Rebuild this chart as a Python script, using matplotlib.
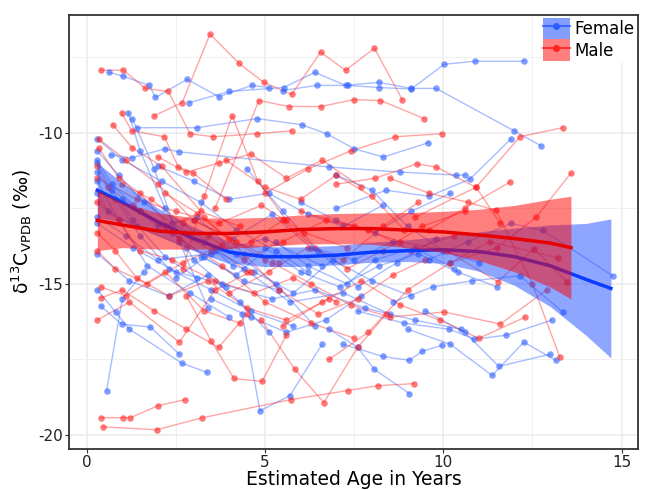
import matplotlib
matplotlib.use("Agg")
import matplotlib.pyplot as plt
from matplotlib.patches import Patch
from matplotlib.lines import Line2D
from matplotlib.ticker import MultipleLocator

plt.rcParams['axes.unicode_minus'] = False

# individual trajectories (age in years, d13C)
female_ages = [
    [0.64, 1.03, 1.76, 1.93, 2.82, 3.7, 4.64, 5.1],
    [2.88, 3.99, 5.53, 6.4, 7.26, 8.2, 9.1, 9.8, 11.98, 12.74],
    [5.5, 6.45, 7.32, 8.2, 9.1, 10.03, 10.9, 12.26],
    [1.42, 3.1, 4.78, 6.03, 6.73, 7.51, 8.32, 9.58],
    [1.17, 1.5, 2.2, 3.0, 3.9],
    [1.28, 1.9, 2.6, 3.4],
    [0.67, 1.26, 2.2, 2.6, 6.79, 8.8, 10.36, 10.61],
    [7.0, 8.4, 9.6, 10.75, 11.9],
    [0.3, 0.9, 1.6, 2.4, 3.3, 4.1],
    [0.3, 0.7, 1.3, 2.2, 3.1],
    [0.3, 0.8, 1.5, 2.3, 3.5, 4.6, 5.8],
    [0.39, 0.98, 1.79, 2.6],
    [0.3, 0.81, 1.2, 2.68, 3.38],
    [0.56, 1.0, 1.6],
    [4.36, 4.86, 5.7, 6.6],
    [9.0, 10.2, 11.37, 12.26, 13.16],
    [9.5, 10.6, 11.56, 12.99],
    [0.3, 1.3, 2.5, 3.8, 5.2, 6.4, 7.8, 9.2, 10.5],
    [9.6, 10.7, 11.9, 12.79, 14.75],
    [8.6, 9.7, 10.8, 12.15, 13.35],
    [7.6, 8.9, 10.17, 10.87, 11.76, 13.04],
    [6.8, 7.6, 8.07, 9.05],
    [7.2, 8.3, 9.05, 9.41, 9.97],
    [0.3, 1.0, 2.1, 3.2, 4.2, 5.3, 6.2],
    [0.3, 0.6, 1.4, 2.8, 4.4, 5.7, 7.2, 8.5],
    [2.5, 3.6, 4.7, 5.8, 6.9, 8.0, 9.1],
    [3.0, 4.1, 5.2, 6.3, 7.5, 8.6],
    [4.5, 5.5, 6.5, 7.6, 8.7, 9.8],
    [5.0, 6.0, 7.1, 8.2, 9.3, 10.4, 11.5],
    [0.3, 0.9, 1.7, 2.9, 4.0],
    [1.0, 2.0, 3.1, 4.2, 5.3, 6.4],
    [6.0, 7.0, 8.1, 9.1, 10.2],
    [3.5, 4.6, 5.6, 6.7, 7.7],
    [0.3, 1.2, 2.3, 3.4, 4.3, 5.1],
    [2.0, 3.0, 4.0, 5.1, 6.2, 7.2, 8.3],
    [7.0, 8.0, 9.0, 10.0, 11.0],
    [0.3, 0.7, 1.5, 2.4, 3.3, 4.4, 5.4],
    [3.2, 4.2, 5.3, 6.2, 7.3, 8.1, 9.2, 10.3],
    [0.3, 1.1, 2.0, 3.5, 5.0, 6.6],
]
female_d13c = [
    [-8.0, -8.13, -8.43, -8.83, -8.23, -8.8, -8.43, -8.5],
    [-9.0, -8.63, -8.5, -8.0, -8.43, -8.33, -8.53, -8.53, -9.93, -10.43],
    [-8.6, -8.43, -8.43, -8.5, -8.55, -7.73, -7.63, -7.63],
    [-9.83, -9.83, -9.53, -9.73, -10.03, -10.53, -10.8, -10.33],
    [-9.33, -10.6, -12.5, -14.2, -15.1],
    [-9.53, -11.2, -13.6, -15.8],
    [-10.73, -10.83, -10.53, -10.63, -11.13, -11.3, -11.4, -11.4],
    [-12.5, -11.9, -12.1, -11.53, -10.2],
    [-10.6, -11.4, -12.3, -13.0, -13.6, -14.4],
    [-11.0, -11.9, -12.9, -14.1, -14.8],
    [-11.3, -12.2, -13.4, -14.5, -15.2, -15.9, -16.4],
    [-15.73, -16.33, -16.43, -17.33],
    [-15.2, -15.93, -16.5, -17.63, -17.93],
    [-18.53, -15.5, -14.6],
    [-16.0, -19.2, -18.7, -17.0],
    [-16.5, -17.0, -18.03, -16.93, -17.53],
    [-15.9, -16.6, -17.73, -17.33],
    [-13.0, -13.8, -14.6, -15.0, -15.5, -15.2, -15.8, -16.2, -16.5],
    [-14.2, -13.6, -13.0, -13.23, -14.73],
    [-15.6, -15.1, -14.9, -14.73, -15.93],
    [-15.9, -16.3, -16.5, -16.83, -16.7, -16.2],
    [-16.5, -17.1, -17.83, -18.63],
    [-17.0, -17.4, -17.53, -17.23, -17.03],
    [-10.2, -10.9, -11.6, -12.3, -13.2, -13.9, -14.6],
    [-12.0, -12.6, -13.1, -13.8, -14.5, -15.6, -15.3, -16.0],
    [-14.8, -13.9, -14.6, -15.3, -14.2, -14.9, -15.4],
    [-12.9, -13.5, -12.7, -13.8, -14.2, -13.6],
    [-11.2, -12.6, -13.9, -15.1, -14.3, -13.5],
    [-13.8, -14.6, -15.1, -14.4, -14.0, -14.6, -15.1],
    [-11.6, -12.9, -14.4, -15.3, -16.1],
    [-12.2, -13.1, -12.8, -14.0, -15.0, -16.4],
    [-12.3, -12.9, -13.3, -12.6, -12.0],
    [-15.5, -16.1, -16.6, -16.2, -15.4],
    [-14.0, -14.9, -15.4, -14.7, -15.6, -16.6],
    [-11.1, -11.6, -12.2, -12.0, -12.7, -13.1, -12.4],
    [-11.4, -11.9, -13.1, -13.9, -14.3],
    [-10.9, -11.7, -12.6, -13.3, -14.1, -14.9, -15.2],
    [-14.1, -14.7, -13.6, -14.4, -15.0, -14.2, -13.8, -14.5],
    [-12.8, -13.4, -14.2, -14.0, -13.5, -14.4],
]

male_ages = [
    [0.39, 1.03, 1.65, 2.29, 2.9, 3.55, 4.78, 5.75],
    [1.9, 2.68, 3.46, 4.27, 4.97, 5.75, 6.56, 7.26, 8.07, 8.85],
    [0.98, 1.26, 2.18, 2.57, 2.99, 3.9],
    [0.73, 1.28, 2.1, 3.2, 4.3],
    [0.34, 1.1, 2.0, 3.0, 4.2, 5.4],
    [0.34, 0.9, 1.5, 2.4, 3.5],
    [2.7, 3.3, 4.08, 4.8, 5.6],
    [3.6, 4.83, 5.67, 6.56, 7.5, 8.24, 9.47],
    [5.0, 6.2, 7.4, 8.66, 9.97],
    [9.2, 10.92, 12.15, 13.35],
    [7.0, 8.1, 9.25, 9.8, 10.92, 11.6],
    [9.6, 10.6, 11.87],
    [10.2, 11.5, 12.6, 13.58],
    [0.39, 1.03, 1.23, 2.0, 2.77],
    [0.47, 1.96, 3.24, 5.73, 7.32, 8.16, 9.19],
    [2.8, 3.5, 4.13, 4.92, 5.6],
    [0.3, 1.2, 2.6, 3.6, 4.6],
    [4.9, 5.84, 6.65, 7.6, 8.4],
    [0.39, 1.1, 2.2, 3.3, 4.3],
    [0.39, 1.0, 1.9, 2.8, 3.7, 4.5],
    [0.3, 0.9, 1.5, 2.4, 3.6, 4.7, 5.8, 7.0],
    [0.3, 1.4, 2.5, 3.7, 4.9, 6.1, 7.3],
    [2.2, 3.3, 4.4, 5.4, 6.5, 7.6, 8.6, 9.5],
    [5.2, 6.3, 7.4, 8.5, 10.03, 11.6, 12.9],
    [6.0, 7.5, 8.8, 10.1, 11.53, 12.54, 13.46],
    [3.4, 4.4, 5.5, 6.7, 7.9, 9.1, 10.3],
    [1.5, 2.6, 3.8, 5.0, 6.3, 7.5],
    [4.0, 5.1, 6.2, 7.2, 8.3, 9.3],
    [6.8, 7.9, 9.0, 10.2, 11.3, 13.21],
    [8.5, 9.6, 10.7, 11.48, 12.5, 13.27],
    [2.0, 2.8, 3.7, 4.6, 5.6, 6.6, 7.7],
    [3.9, 5.0, 6.0, 7.0, 8.0, 8.9],
    [0.3, 0.8, 1.7, 2.7, 3.8],
    [5.5, 6.6, 7.7, 8.8, 9.9, 11.0, 12.3],
    [1.0, 1.8, 2.7, 3.6, 4.5],
    [0.3, 0.6, 1.3, 2.2, 3.1, 4.0, 5.0],
    [4.6, 5.5, 6.4, 7.3, 8.3, 9.4, 10.6],
    [0.3, 0.8, 1.4, 2.3, 3.4, 4.5, 5.6, 6.8],
]
male_d13c = [
    [-7.93, -7.93, -8.53, -8.63, -10.03, -10.13, -10.03, -9.93],
    [-9.43, -9.0, -6.73, -7.7, -8.33, -8.73, -7.33, -7.93, -7.2, -8.9],
    [-9.33, -9.93, -10.13, -11.13, -11.33, -12.2],
    [-9.73, -10.5, -11.1, -12.6, -13.1],
    [-10.2, -10.9, -11.7, -12.9, -13.6, -14.3],
    [-10.5, -11.5, -12.0, -13.2, -13.9],
    [-14.5, -12.1, -9.43, -11.6, -12.9],
    [-12.5, -8.93, -9.13, -9.13, -8.9, -8.93, -9.53],
    [-12.0, -11.2, -10.6, -10.13, -10.03],
    [-12.8, -11.8, -10.13, -9.83],
    [-11.7, -11.5, -11.03, -11.13, -11.8, -13.0],
    [-13.2, -12.5, -11.63],
    [-14.3, -13.8, -12.8, -11.33],
    [-19.43, -19.43, -19.43, -19.03, -18.83],
    [-19.73, -19.83, -19.43, -18.83, -18.53, -18.37, -18.3],
    [-15.4, -16.9, -18.13, -18.23, -16.7],
    [-16.2, -15.6, -16.93, -15.2, -14.6],
    [-16.2, -17.83, -18.93, -17.1, -16.0],
    [-15.1, -15.4, -14.6, -15.9, -16.3],
    [-15.47, -15.2, -15.9, -16.5, -17.1, -16.0],
    [-12.3, -12.9, -13.9, -14.2, -14.9, -15.3, -14.8, -15.6],
    [-11.5, -12.2, -12.6, -13.0, -12.4, -13.3, -13.8],
    [-12.0, -12.8, -14.0, -15.2, -16.0, -15.5, -14.7, -14.2],
    [-14.3, -15.0, -15.7, -16.1, -15.93, -16.33, -15.2],
    [-12.6, -13.1, -13.6, -13.9, -14.93, -13.83, -14.93],
    [-13.4, -14.2, -13.6, -12.9, -13.2, -13.9, -13.4],
    [-12.6, -13.5, -14.4, -15.6, -16.3, -16.8],
    [-15.3, -14.6, -13.8, -14.2, -13.1, -12.3],
    [-17.5, -16.6, -15.2, -14.3, -13.6, -14.13],
    [-11.5, -12.0, -12.3, -12.57, -15.0, -17.43],
    [-10.8, -11.3, -11.0, -10.7, -11.5, -10.9, -11.8],
    [-10.9, -11.8, -12.2, -11.4, -12.1, -13.2],
    [-13.9, -14.5, -15.0, -14.3, -13.7],
    [-16.4, -15.6, -14.9, -15.7, -16.2, -16.8, -16.1],
    [-11.7, -12.2, -13.0, -13.8, -14.6],
    [-11.1, -11.8, -12.4, -13.1, -12.7, -13.5, -14.2],
    [-13.6, -12.9, -13.8, -14.5, -13.9, -13.1, -12.6],
    [-13.3, -13.9, -14.8, -15.4, -14.9, -15.8, -16.2, -15.5],
]

# smoothed fits with confidence bands
female_fit_x = [0.3, 1, 2, 3, 4, 5, 6, 7, 8, 9, 10, 11, 12, 13, 14, 14.7]
female_fit = [-11.9, -12.3, -12.95, -13.5, -13.95, -14.1, -14.1, -14.05, -13.95,
              -13.9, -13.87, -13.93, -14.1, -14.4, -14.85, -15.15]
female_half = [0.9, 0.65, 0.45, 0.38, 0.35, 0.33, 0.32, 0.32, 0.33, 0.36, 0.45,
               0.65, 0.95, 1.35, 1.85, 2.3]

male_fit_x = [0.3, 1, 2, 3, 4, 5, 6, 7, 8, 9, 10, 11, 12, 13, 13.58]
male_fit = [-12.9, -13.05, -13.25, -13.33, -13.33, -13.28, -13.2, -13.17, -13.17,
            -13.22, -13.28, -13.38, -13.5, -13.65, -13.8]
male_half = [1.0, 0.75, 0.6, 0.52, 0.5, 0.48, 0.48, 0.5, 0.52, 0.58, 0.68, 0.85,
             1.1, 1.45, 1.7]

BLUE = '#2a5cff'
RED = '#ff2020'

fig = plt.figure(figsize=(6.49, 4.90), dpi=100)
ax = fig.add_axes([0.106, 0.084, 0.877, 0.886])

for xs, ys in zip(female_ages, female_d13c):
    ax.plot(xs, ys, color=BLUE, alpha=0.4, lw=1.0, zorder=2)
    ax.scatter(xs, ys, color=BLUE, alpha=0.6, s=22, lw=0, zorder=3)
for xs, ys in zip(male_ages, male_d13c):
    ax.plot(xs, ys, color=RED, alpha=0.4, lw=1.0, zorder=2)
    ax.scatter(xs, ys, color=RED, alpha=0.6, s=22, lw=0, zorder=3)

f_lo = [m - h for m, h in zip(female_fit, female_half)]
f_hi = [m + h for m, h in zip(female_fit, female_half)]
m_lo = [m - h for m, h in zip(male_fit, male_half)]
m_hi = [m + h for m, h in zip(male_fit, male_half)]

ax.fill_between(female_fit_x, f_lo, f_hi, color='#1f4fff', alpha=0.5, lw=0, zorder=4)
ax.plot(female_fit_x, female_fit, color='#0a3cff', lw=2.5, zorder=5)
ax.fill_between(male_fit_x, m_lo, m_hi, color='#ff0000', alpha=0.5, lw=0, zorder=6)
ax.plot(male_fit_x, male_fit, color='#e60000', lw=2.5, zorder=7)

ax.set_xlim(-0.5, 15.46)
ax.set_ylim(-20.46, -6.09)
ax.xaxis.set_major_locator(MultipleLocator(5))
ax.xaxis.set_minor_locator(MultipleLocator(2.5))
ax.yaxis.set_major_locator(MultipleLocator(5))
ax.yaxis.set_minor_locator(MultipleLocator(2.5))
ax.grid(which='major', color='#ebebeb', lw=1.1, zorder=0)
ax.grid(which='minor', color='#f0f0f0', lw=0.7, zorder=0)
ax.set_axisbelow(True)
ax.tick_params(which='minor', length=0)
ax.tick_params(which='major', length=3, pad=1.5, color='#333333', labelsize=11,
               labelcolor='#222222')
for sp in ax.spines.values():
    sp.set_color('#333333')
    sp.set_linewidth(1.3)

ax.set_xlabel('Estimated Age in Years', fontsize=13.5, labelpad=0)
ax.set_ylabel('δ$^{13}$C$_{\\mathregular{VPDB}}$ (‰)', fontsize=13.5, labelpad=3)

handles = [
    (Patch(facecolor='#1f4fff', alpha=0.55, lw=0),
     Line2D([], [], color=BLUE, marker='o', ms=4, lw=1.2)),
    (Patch(facecolor='#ff0000', alpha=0.5, lw=0),
     Line2D([], [], color=RED, marker='o', ms=4, lw=1.2)),
]
leg = ax.legend(handles, ['Female', 'Male'], loc='upper right', fontsize=12,
                frameon=True, framealpha=1, edgecolor='none', fancybox=False,
                borderaxespad=0.1, borderpad=0.1, handlelength=1.6,
                handleheight=1.6, handletextpad=0.3, labelspacing=0.0)
leg.set_zorder(10)

fig.savefig('out.png', dpi=100)
